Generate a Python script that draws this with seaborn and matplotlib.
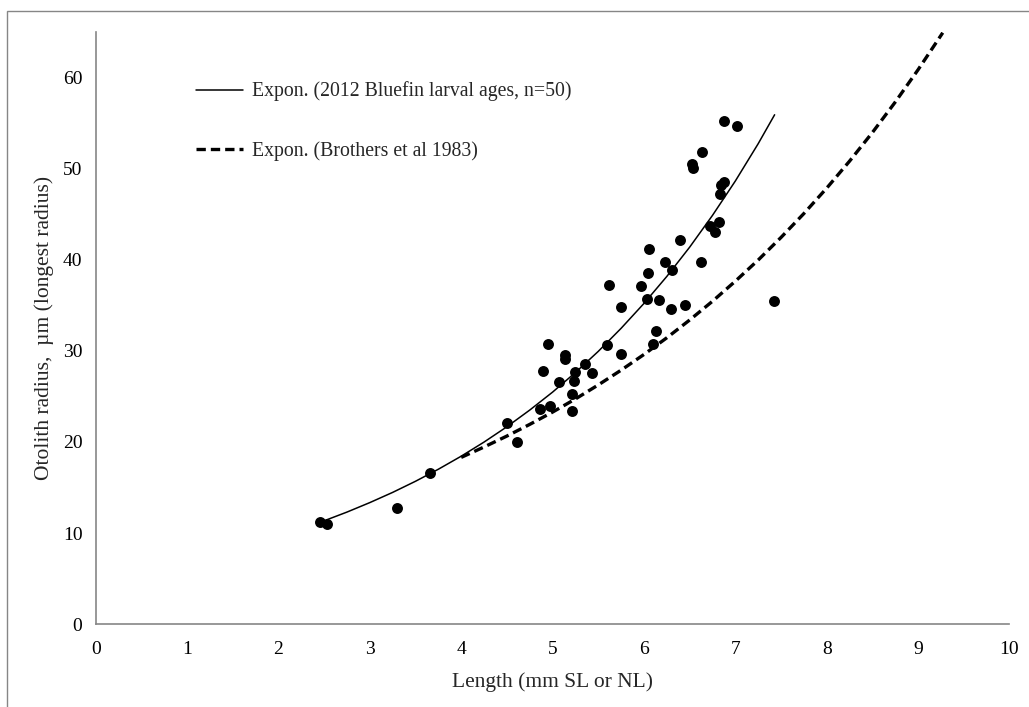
import numpy as np
import pandas as pd
import seaborn as sns
import matplotlib
matplotlib.use("Agg")
import matplotlib.pyplot as plt
from matplotlib.patches import Rectangle

length_mm = [2.45, 2.53, 3.30, 3.66, 4.50, 4.61, 4.86, 4.97, 5.21, 5.21, 5.07, 5.23,
             4.89, 4.95, 5.14, 5.14, 5.25, 5.35, 5.43, 5.60, 5.75, 5.75, 5.62, 5.97,
             6.04, 6.05, 6.03, 6.16, 6.13, 6.10, 6.23, 6.31, 6.30, 6.39, 6.45, 6.62,
             6.88, 7.02, 6.63, 6.53, 6.54, 6.88, 6.84, 6.83, 6.82, 6.72, 6.78, 7.42]
radius_um = [11.2, 11.0, 12.8, 16.6, 22.1, 20.0, 23.6, 23.9, 25.3, 23.4, 26.6, 26.7,
             27.8, 30.8, 29.5, 29.1, 27.7, 28.6, 27.6, 30.6, 29.6, 34.8, 37.2, 37.1,
             38.5, 41.2, 35.7, 35.6, 32.2, 30.7, 39.8, 38.9, 34.6, 42.2, 35.0, 39.7,
             55.2, 54.7, 51.8, 50.5, 50.1, 48.5, 48.2, 47.2, 44.1, 43.7, 43.0, 35.5]

# trend curves
fit_x = [2.52, 2.75, 3.0, 3.25, 3.5, 3.75, 4.0, 4.25, 4.5, 4.75, 5.0, 5.25,
         5.5, 5.75, 6.0, 6.25, 6.5, 6.75, 7.0, 7.25, 7.43]
fit_y = [11.43, 12.31, 13.35, 14.47, 15.69, 17.01, 18.44, 19.99, 21.67, 23.50, 25.47, 27.62,
         29.94, 32.47, 35.20, 38.16, 41.37, 44.86, 48.63, 52.72, 55.9]
brothers_x = [4.0, 4.25, 4.5, 4.75, 5.0, 5.25, 5.5, 5.75, 6.0, 6.25, 6.5, 6.75,
              7.0, 7.25, 7.5, 7.75, 8.0, 8.25, 8.5, 8.75, 9.0, 9.27]
brothers_y = [18.31, 19.45, 20.65, 21.93, 23.28, 24.72, 26.26, 27.88, 29.60, 31.43, 33.38, 35.44,
              37.64, 39.96, 42.44, 45.06, 47.85, 50.81, 53.95, 57.29, 60.84, 64.9]

x_ticks = list(range(0, 11))
y_ticks = list(range(0, 61, 10))

label_fit = "Expon. (2012 Bluefin larval ages, n=50)"
label_bro = "Expon. (Brothers et al 1983)"

sns.set_style("white")
plt.rcParams["font.family"] = ["Liberation Serif", "DejaVu Serif"]
plt.rcParams["font.size"] = 14

GRAY = "#868686"
DASH = (2.8, 1.5)

fig = plt.figure(figsize=(10.29, 7.07), dpi=100)
ax = fig.add_axes([0.093, 0.117, 0.888, 0.838])

pts = pd.DataFrame({"x": length_mm, "y": radius_um})
sns.scatterplot(data=pts, x="x", y="y", ax=ax, color="black", s=62,
                edgecolor="black", linewidth=0, zorder=3)

sns.lineplot(x=fit_x, y=fit_y, ax=ax, color="black", linewidth=1.1,
             label=label_fit, sort=False, zorder=2)
sns.lineplot(x=brothers_x, y=brothers_y, ax=ax, color="black", linewidth=2.4,
             label=label_bro, sort=False, zorder=2)
ax.lines[-1].set_dashes(DASH)

ax.set_xlim(0, 10)
ax.set_ylim(0, 65)
ax.set_xticks(x_ticks)
ax.set_yticks(y_ticks)
ax.set_xlabel("Length (mm SL or NL)", fontsize=15.5, labelpad=10)
ax.set_ylabel("Otolith radius,  µm (longest radius)", fontsize=15.5, labelpad=6)

for side in ["top", "right"]:
    ax.spines[side].set_visible(False)
for side in ["left", "bottom"]:
    ax.spines[side].set_color(GRAY)
    ax.spines[side].set_linewidth(1.2)
ax.tick_params(axis="both", direction="out", length=3.6, width=1.0,
               color=GRAY, labelcolor="black", labelsize=14)
ax.tick_params(axis="x", pad=8.5)
ax.tick_params(axis="y", pad=6)

leg = ax.legend(loc="upper left", bbox_to_anchor=(0.110, 0.916), frameon=False,
                handlelength=2.39, handletextpad=0.44, labelspacing=2.0,
                borderpad=0, borderaxespad=0, fontsize=14.2)
leg.get_lines()[1].set_dashes(DASH)

# chart-area frame (only top and left edges visible in the crop)
fig.add_artist(Rectangle((7 / 1029, -0.1), 1.2, 1.1 - 11 / 707,
                         transform=fig.transFigure, fill=False,
                         edgecolor=GRAY, linewidth=1.0))

fig.savefig("out.png", dpi=100)
